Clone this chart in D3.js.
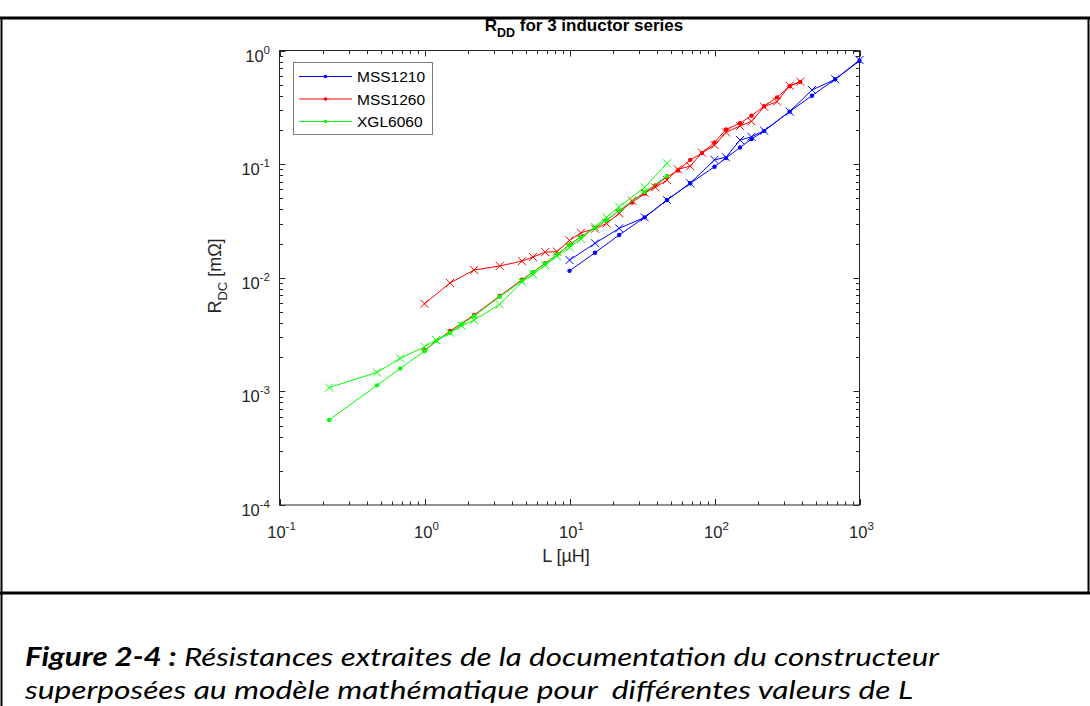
<!DOCTYPE html>
<html><head><meta charset="utf-8">
<script src="https://cdn.jsdelivr.net/npm/d3@7"></script>
<style>body{margin:0;background:#fff} svg{display:block}</style>
</head><body>
<svg id="c" width="1090" height="706"></svg>
<script>
// ---------- data ----------
const xTickExps = [-1, 0, 1, 2, 3];
const yTickExps = [-4, -3, -2, -1, 0];
const seriesNames = ["MSS1210", "MSS1260", "XGL6060"];
const seriesColors = ["#0000ff", "#ff0000", "#00ff00"];

const mss1210L     = [10, 15, 22, 33, 47, 68, 100, 120, 150, 180, 220, 330, 470, 680, 1000];
const mss1210Sheet = [0.0143, 0.0201, 0.0272, 0.034, 0.0483, 0.0678, 0.109, 0.115, 0.163, 0.174, 0.197, 0.29, 0.449, 0.558, 0.824];
const mss1210Model = [0.0115, 0.0166, 0.0238, 0.034, 0.0483, 0.0678, 0.0948, 0.113, 0.14, 0.166, 0.196, 0.29, 0.40, 0.558, 0.81];

const mss1260L     = [1.0, 1.5, 2.2, 3.3, 4.7, 5.6, 6.8, 8.2, 10, 12, 15, 18, 22, 27, 33, 39, 47, 56, 68, 82, 100, 120, 150, 180, 220, 270, 330, 390];
const mss1260Sheet = [0.0059, 0.009, 0.0117, 0.0127, 0.014, 0.0152, 0.0168, 0.017, 0.0213, 0.0249, 0.027, 0.030, 0.0369, 0.0476, 0.056, 0.0625, 0.0724, 0.09, 0.096, 0.126, 0.147, 0.19, 0.217, 0.238, 0.32, 0.355, 0.49, 0.532];
const mss1260Model = [0.0023, 0.0034, 0.0047, 0.0069, 0.0096, 0.0112, 0.0134, 0.016, 0.0195, 0.023, 0.0275, 0.032, 0.039, 0.046, 0.055, 0.065, 0.077, 0.088, 0.109, 0.125, 0.155, 0.202, 0.229, 0.267, 0.323, 0.387, 0.485, 0.53];

const xgl6060L     = [0.22, 0.47, 0.68, 1.0, 1.2, 1.5, 1.8, 2.2, 3.3, 4.7, 5.6, 6.8, 8.2, 10, 12, 15, 18, 22, 33, 47];
const xgl6060Sheet = [0.00108, 0.00147, 0.00195, 0.00247, 0.00283, 0.00328, 0.00378, 0.00424, 0.00583, 0.0092, 0.0107, 0.0129, 0.0155, 0.0185, 0.022, 0.0281, 0.034, 0.0422, 0.0625, 0.1016];
const xgl6060Model = [0.00056, 0.00113, 0.00159, 0.00226, 0.00277, 0.00328, 0.0039, 0.0046, 0.0068, 0.0094, 0.0112, 0.0133, 0.016, 0.0195, 0.0228, 0.0275, 0.032, 0.039, 0.057, 0.0786];

const captionBold = "Figure 2-4 :";
const captionRest = " Résistances extraites de la documentation du constructeur";
const captionLine2 = "superposées au modèle mathématique pour  différentes valeurs de L";

// ---------- layout ----------
(function () {
const svg = d3.select("#c");
const pL = 279.5, pR = 859.5, pT = 50.5, pB = 505;
const x = d3.scaleLog().domain([0.1, 1000]).range([pL, pR]);
const y = d3.scaleLog().domain([1e-4, 1]).range([pB, pT]);
const FONT = "'Liberation Sans', Arial, Helvetica, sans-serif";

// outer frame
svg.append("line").attr("x1", 0).attr("x2", 1090).attr("y1", 18).attr("y2", 18).attr("stroke", "#000").attr("stroke-width", 3);
svg.append("line").attr("x1", 0).attr("x2", 1090).attr("y1", 593).attr("y2", 593).attr("stroke", "#000").attr("stroke-width", 3);
svg.append("line").attr("x1", 1.5).attr("x2", 1.5).attr("y1", 17).attr("y2", 706).attr("stroke", "#000").attr("stroke-width", 2);
svg.append("line").attr("x1", 1088.5).attr("x2", 1088.5).attr("y1", 17).attr("y2", 594).attr("stroke", "#000").attr("stroke-width", 2);

const g = svg.append("g");

function minorTicks(lo, hi) {
  const arr = [];
  for (let e = lo; e < hi; e++) for (let k = 2; k <= 9; k++) arr.push(k * Math.pow(10, e));
  return arr;
}
const xMinor = minorTicks(-1, 3), yMinor = minorTicks(-4, 0);
const xMajor = xTickExps.map(e => Math.pow(10, e)), yMajor = yTickExps.map(e => Math.pow(10, e));
const tk = g.append("g").attr("stroke", "#262626").attr("stroke-width", 1);
xMajor.forEach(v => {
  const px = Math.round(x(v)) + 0.5;
  tk.append("line").attr("x1", px).attr("x2", px).attr("y1", pB).attr("y2", pB - 6);
  tk.append("line").attr("x1", px).attr("x2", px).attr("y1", pT).attr("y2", pT + 6);
});
xMinor.forEach(v => {
  const px = Math.round(x(v)) + 0.5;
  tk.append("line").attr("x1", px).attr("x2", px).attr("y1", pB).attr("y2", pB - 3.5);
  tk.append("line").attr("x1", px).attr("x2", px).attr("y1", pT).attr("y2", pT + 3.5);
});
yMajor.forEach(v => {
  const py = Math.round(y(v)) + 0.5;
  tk.append("line").attr("y1", py).attr("y2", py).attr("x1", pL).attr("x2", pL + 6);
  tk.append("line").attr("y1", py).attr("y2", py).attr("x1", pR).attr("x2", pR - 6);
});
yMinor.forEach(v => {
  const py = Math.round(y(v)) + 0.5;
  tk.append("line").attr("y1", py).attr("y2", py).attr("x1", pL).attr("x2", pL + 3.5);
  tk.append("line").attr("y1", py).attr("y2", py).attr("x1", pR).attr("x2", pR - 3.5);
});
g.append("rect").attr("x", pL).attr("y", pT).attr("width", pR - pL).attr("height", pB - pT)
  .attr("fill", "none").attr("stroke", "#262626").attr("stroke-width", 1);

// tick labels
xTickExps.forEach(e => {
  const t = svg.append("text").attr("x", x(Math.pow(10, e)) + 2).attr("y", 538)
    .attr("text-anchor", "middle").attr("font-family", FONT).attr("font-size", 16.5).attr("fill", "#262626");
  t.append("tspan").text("10");
  t.append("tspan").attr("dy", -8).attr("font-size", 11.5).text(String(e));
});
yTickExps.forEach(e => {
  const t = svg.append("text").attr("x", 270).attr("y", y(Math.pow(10, e)) + 11)
    .attr("text-anchor", "end").attr("font-family", FONT).attr("font-size", 16.5).attr("fill", "#262626");
  t.append("tspan").text("10");
  t.append("tspan").attr("dy", -8).attr("font-size", 11.5).text(String(e));
});

// axis labels
svg.append("text").attr("x", 566).attr("y", 562).attr("text-anchor", "middle")
  .attr("font-family", FONT).attr("font-size", 18).attr("fill", "#262626").text("L [µH]");
const yl = svg.append("text").attr("transform", "translate(221,276) rotate(-90)").attr("text-anchor", "middle")
  .attr("font-family", FONT).attr("font-size", 18).attr("fill", "#262626");
yl.append("tspan").text("R");
yl.append("tspan").attr("dy", 6).attr("font-size", 13).text("DC");
yl.append("tspan").attr("dy", -6).text(" [mΩ]");

// title
const tt = svg.append("text").attr("x", 584).attr("y", 31).attr("text-anchor", "middle")
  .attr("font-family", FONT).attr("font-size", 17).attr("font-weight", "bold").attr("fill", "#000");
tt.append("tspan").text("R");
tt.append("tspan").attr("dy", 6).attr("font-size", 12.5).text("DD");
tt.append("tspan").attr("dy", -6).text(" for 3 inductor series");

// series
const series = [
  {L: mss1210L, sheet: mss1210Sheet, model: mss1210Model},
  {L: mss1260L, sheet: mss1260Sheet, model: mss1260Model},
  {L: xgl6060L, sheet: xgl6060Sheet, model: xgl6060Model}
];
const line = d3.line().x(d => x(d[0])).y(d => y(d[1]));
const plot = svg.append("g");
series.forEach((s, i) => {
  const col = seriesColors[i];
  const model = s.L.map((l, j) => [l, s.model[j]]);
  const sheet = s.L.map((l, j) => [l, s.sheet[j]]);
  plot.append("path").attr("d", line(model)).attr("fill", "none").attr("stroke", col).attr("stroke-width", 1);
  plot.selectAll(null).data(model).enter().append("circle")
    .attr("cx", d => x(d[0])).attr("cy", d => y(d[1])).attr("r", 2.2).attr("fill", col);
  plot.append("path").attr("d", line(sheet)).attr("fill", "none").attr("stroke", col).attr("stroke-width", 1);
  const h = 4;
  plot.selectAll(null).data(sheet).enter().append("path")
    .attr("d", d => { const cx = x(d[0]), cy = y(d[1]); return `M${cx-h},${cy-h}L${cx+h},${cy+h}M${cx-h},${cy+h}L${cx+h},${cy-h}`; })
    .attr("stroke", col).attr("stroke-width", 1).attr("fill", "none");
});

// legend
const lg = svg.append("g");
lg.append("rect").attr("x", 293.5).attr("y", 62.5).attr("width", 139).attr("height", 72)
  .attr("fill", "#fff").attr("stroke", "#7a7a7a").attr("stroke-width", 1);
const rowY = [76.5, 99, 121.5];
seriesNames.forEach((n, i) => {
  lg.append("line").attr("x1", 299).attr("x2", 352).attr("y1", rowY[i]).attr("y2", rowY[i])
    .attr("stroke", seriesColors[i]).attr("stroke-width", 1);
  lg.append("circle").attr("cx", 325.5).attr("cy", rowY[i]).attr("r", 1.8).attr("fill", seriesColors[i]);
  lg.append("text").attr("x", 357).attr("y", rowY[i] + 5.5).attr("font-family", FONT).attr("font-size", 15.5)
    .attr("fill", "#000").text(n);
});

// caption
const CF = "Lato, 'Open Sans', sans-serif";
const c1 = svg.append("text").attr("x", 25).attr("y", 666).attr("font-family", CF).attr("font-size", 26)
  .attr("font-style", "italic").attr("fill", "#000").attr("textLength", 914).attr("lengthAdjust", "spacingAndGlyphs")
  .style("white-space", "pre");
c1.append("tspan").attr("font-weight", "bold").text(captionBold);
c1.append("tspan").text(captionRest);
svg.append("text").attr("x", 25).attr("y", 699).attr("font-family", CF).attr("font-size", 26)
  .attr("font-style", "italic").attr("fill", "#000").attr("textLength", 888).attr("lengthAdjust", "spacingAndGlyphs")
  .style("white-space", "pre").text(captionLine2);
})();
</script>
</body></html>
